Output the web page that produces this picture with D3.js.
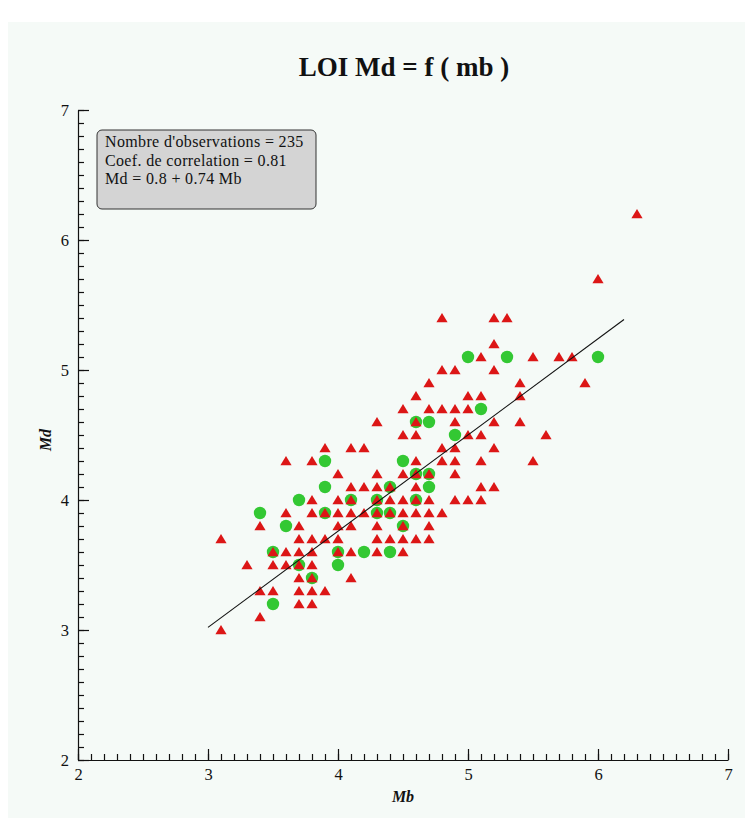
<!DOCTYPE html>
<html>
<head>
<meta charset="utf-8">
<script src="https://cdn.jsdelivr.net/npm/d3@7"></script>
<style>
  html, body { margin: 0; padding: 0; background: #ffffff; }
  svg { display: block; }
  text { font-family: "Liberation Serif", "DejaVu Serif", serif; fill: #111; }
</style>
</head>
<body>
<svg id="chart" width="752" height="822"></svg>
<script>
// Observations (Mb, Md), red triangles
const obsRed = [
  [3.1,3.0],
  [3.4,3.1],
  [3.7,3.2],[3.8,3.2],
  [3.4,3.3],[3.5,3.3],[3.7,3.3],[3.8,3.3],[3.9,3.3],
  [3.7,3.4],[3.8,3.4],[4.1,3.4],
  [3.3,3.5],[3.5,3.5],[3.6,3.5],[3.7,3.5],[3.8,3.5],
  [3.5,3.6],[3.6,3.6],[3.7,3.6],[3.8,3.6],[4.0,3.6],[4.1,3.6],[4.3,3.6],[4.5,3.6],
  [3.1,3.7],[3.7,3.7],[3.8,3.7],[3.9,3.7],[4.0,3.7],[4.3,3.7],[4.4,3.7],[4.5,3.7],[4.6,3.7],[4.7,3.7],
  [3.4,3.8],[3.7,3.8],[4.0,3.8],[4.1,3.8],[4.3,3.8],[4.5,3.8],[4.7,3.8],
  [3.6,3.9],[3.8,3.9],[3.9,3.9],[4.0,3.9],[4.1,3.9],[4.2,3.9],[4.3,3.9],[4.4,3.9],[4.5,3.9],[4.6,3.9],[4.7,3.9],[4.8,3.9],
  [3.8,4.0],[4.0,4.0],[4.1,4.0],[4.3,4.0],[4.4,4.0],[4.5,4.0],[4.6,4.0],[4.7,4.0],[4.9,4.0],[5.0,4.0],[5.1,4.0],
  [4.1,4.1],[4.2,4.1],[4.3,4.1],[4.4,4.1],[4.6,4.1],[5.1,4.1],[5.2,4.1],
  [4.0,4.2],[4.3,4.2],[4.5,4.2],[4.6,4.2],[4.7,4.2],[4.9,4.2],
  [3.6,4.3],[3.8,4.3],[4.6,4.3],[4.8,4.3],[4.9,4.3],[5.1,4.3],[5.5,4.3],
  [3.9,4.4],[4.1,4.4],[4.2,4.4],[4.8,4.4],[4.9,4.4],[5.2,4.4],
  [4.5,4.5],[4.6,4.5],[5.0,4.5],[5.1,4.5],[5.6,4.5],
  [4.3,4.6],[4.6,4.6],[4.9,4.6],[5.2,4.6],[5.4,4.6],
  [4.5,4.7],[4.7,4.7],[4.8,4.7],[4.9,4.7],[5.0,4.7],
  [4.6,4.8],[5.0,4.8],[5.1,4.8],[5.4,4.8],
  [4.7,4.9],[5.4,4.9],[5.9,4.9],
  [4.8,5.0],[4.9,5.0],[5.2,5.0],
  [5.1,5.1],[5.5,5.1],[5.7,5.1],[5.8,5.1],
  [5.2,5.2],
  [4.8,5.4],[5.2,5.4],[5.3,5.4],
  [6.0,5.7],
  [6.3,6.2]
];

// Observations (Mb, Md), green dots
const obsGreen = [
  [3.5,3.2],[3.8,3.4],[3.7,3.5],[4.0,3.5],[3.5,3.6],[4.0,3.6],[4.2,3.6],[4.4,3.6],
  [3.6,3.8],[4.5,3.8],[3.4,3.9],[3.9,3.9],[4.3,3.9],[4.4,3.9],[3.7,4.0],[4.1,4.0],
  [4.3,4.0],[4.6,4.0],[3.9,4.1],[4.4,4.1],[4.7,4.1],[4.6,4.2],[4.7,4.2],[3.9,4.3],
  [4.5,4.3],[4.9,4.5],[4.6,4.6],[4.7,4.6],[5.1,4.7],[5.0,5.1],[5.3,5.1],[6.0,5.1]
];

// Regression Md = a + b * Mb, drawn over the Mb range below
const nObs = 235;
const corr = 0.81;
const intercept = 0.8;
const slope = 0.74;
const fitRange = [3.0, 6.2];

const xTicks = [2, 3, 4, 5, 6, 7];
const yTicks = [2, 3, 4, 5, 6, 7];
const domainMb = [2, 7];
const domainMd = [2, 7];

const titleText = "LOI Md = f ( mb )";
const xLabel = "Mb";
const yLabel = "Md";
const legendLines = [
  "Nombre d'observations = " + nObs,
  "Coef. de correlation = " + corr,
  "Md = " + intercept + " + " + slope + " Mb"
];

const svg = d3.select("#chart");

// light panel behind the chart
svg.append("rect")
  .attr("x", 8).attr("y", 22)
  .attr("width", 737).attr("height", 796)
  .attr("fill", "#f5faf7");

const x = d3.scaleLinear().domain(domainMb).range([78, 728]);
const y = d3.scaleLinear().domain(domainMd).range([760, 110]);

const minorX = d3.range(domainMb[0] * 10, domainMb[1] * 10 + 1).map(v => v / 10);
const minorY = d3.range(domainMd[0] * 10, domainMd[1] * 10 + 1).map(v => v / 10);

// x axis: minor ticks, then major ticks with labels (ticks point inward)
svg.append("g")
  .attr("transform", "translate(0,760)")
  .call(d3.axisBottom(x).tickValues(minorX).tickSizeInner(-6).tickSizeOuter(0).tickFormat(""))
  .call(g => g.select(".domain").remove());
svg.append("g")
  .attr("transform", "translate(0,760)")
  .call(d3.axisBottom(x).tickValues(xTicks).tickSizeInner(-11).tickSizeOuter(0)
        .tickPadding(8).tickFormat(d3.format("d")))
  .call(g => g.selectAll("text").attr("font-size", 16.5).attr("font-family", "Liberation Serif").attr("fill", "#111"));

// y axis
svg.append("g")
  .attr("transform", "translate(78,0)")
  .call(d3.axisLeft(y).tickValues(minorY).tickSizeInner(-6).tickSizeOuter(0).tickFormat(""))
  .call(g => g.select(".domain").remove());
svg.append("g")
  .attr("transform", "translate(78,0)")
  .call(d3.axisLeft(y).tickValues(yTicks).tickSizeInner(-11).tickSizeOuter(0)
        .tickPadding(9).tickFormat(d3.format("d")))
  .call(g => g.selectAll("text").attr("font-size", 16.5).attr("font-family", "Liberation Serif").attr("fill", "#111"));

svg.selectAll(".tick line, .domain").attr("stroke", "#111").attr("stroke-width", 1.2);

// title and axis names
svg.append("text")
  .attr("x", 404).attr("y", 76)
  .attr("text-anchor", "middle")
  .attr("font-size", 27).attr("font-weight", "bold")
  .text(titleText);

svg.append("text")
  .attr("x", 403).attr("y", 802)
  .attr("text-anchor", "middle")
  .attr("font-size", 16).attr("font-style", "italic").attr("font-weight", "bold")
  .text(xLabel);

svg.append("text")
  .attr("transform", "translate(51,440) rotate(-90)")
  .attr("text-anchor", "middle")
  .attr("font-size", 16).attr("font-style", "italic").attr("font-weight", "bold")
  .text(yLabel);

// green dots first, triangles drawn on top
svg.append("g").selectAll("circle")
  .data(obsGreen)
  .join("circle")
  .attr("cx", d => x(d[0]))
  .attr("cy", d => y(d[1]))
  .attr("r", 6.2)
  .attr("fill", "#33c833");

const tri = "M0,-5L5.6,4.2L-5.6,4.2Z";
svg.append("g").selectAll("path")
  .data(obsRed)
  .join("path")
  .attr("transform", d => `translate(${x(d[0])},${y(d[1])})`)
  .attr("d", tri)
  .attr("fill", "#dc1616");

// regression line
svg.append("line")
  .attr("x1", x(fitRange[0])).attr("y1", y(intercept + slope * fitRange[0]))
  .attr("x2", x(fitRange[1])).attr("y2", y(intercept + slope * fitRange[1]))
  .attr("stroke", "#111").attr("stroke-width", 1.1);

// statistics box
const box = svg.append("g").attr("transform", "translate(97,130)");
box.append("rect")
  .attr("width", 219).attr("height", 79)
  .attr("rx", 5).attr("ry", 5)
  .attr("fill", "#d4d4d4")
  .attr("stroke", "#333").attr("stroke-width", 1);
box.selectAll("text")
  .data(legendLines)
  .join("text")
  .attr("x", 8)
  .attr("y", (d, i) => 17 + i * 18.5)
  .attr("font-size", 16)
  .attr("letter-spacing", 0.35)
  .text(d => d);
</script>
</body>
</html>
